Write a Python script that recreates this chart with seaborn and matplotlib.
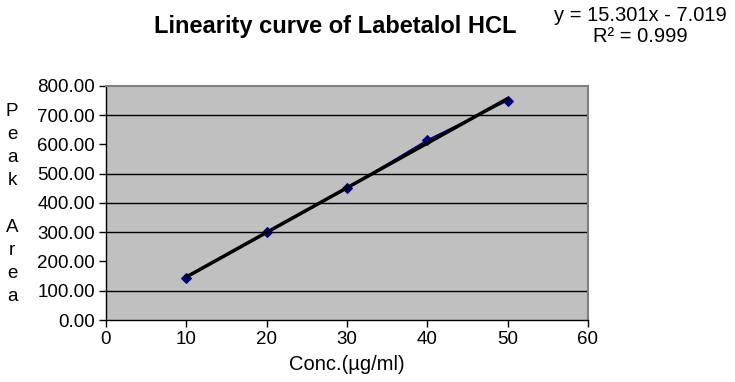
import numpy as np
import pandas as pd
import matplotlib
matplotlib.use("Agg")
import matplotlib.pyplot as plt
from matplotlib.ticker import FormatStrFormatter
import seaborn as sns

# Calibration data
conc = [10, 20, 30, 40, 50]
peak_area = [145, 300, 450, 615, 750]
equation_text = "y = 15.301x - 7.019\nR² = 0.999"
y_label_letters = "P\ne\na\nk\n\nA\nr\ne\na"
x_ticks = [0, 10, 20, 30, 40, 50, 60]
y_ticks = [0, 100, 200, 300, 400, 500, 600, 700, 800]
grid_levels = [100, 300, 400, 500, 700]  # the original only shows these lines

df = pd.DataFrame({"conc": conc, "area": peak_area})

sns.set_style("white")
plt.rcParams["font.family"] = ["Liberation Sans", "DejaVu Sans"]
plt.rcParams["text.color"] = "black"
plt.rcParams["xtick.color"] = "black"
plt.rcParams["ytick.color"] = "black"
plt.rcParams["axes.labelcolor"] = "black"

fig = plt.figure(figsize=(7.35, 3.82), dpi=100)
ax = fig.add_axes([0.1442, 0.1623, 0.6558, 0.6126])
ax.set_facecolor("#c0c0c0")

for lvl in grid_levels:
    ax.axhline(lvl, color="black", lw=1.0, zorder=1)

# Data series (navy diamonds joined by a thin line)
sns.lineplot(data=df, x="conc", y="area", ax=ax, color="#000080", lw=1.2,
             marker="D", markersize=5.5, markeredgecolor="#000080", zorder=3)

# Linear trendline
sns.regplot(data=df, x="conc", y="area", ax=ax, scatter=False, ci=None,
            truncate=True, line_kws={"color": "black", "lw": 2.5, "zorder": 4})

ax.set_xlim(0, 60)
ax.set_ylim(0, 800)
ax.set_xticks(x_ticks)
ax.set_yticks(y_ticks)
ax.yaxis.set_major_formatter(FormatStrFormatter("%.2f"))
ax.tick_params(axis="both", labelsize=13.5, direction="out", length=5,
               width=1, color="black", left=True, bottom=True, pad=3)

for side in ["top", "right"]:
    ax.spines[side].set_color("#808080")
    ax.spines[side].set_linewidth(1.5)
for side in ["left", "bottom"]:
    ax.spines[side].set_color("black")
    ax.spines[side].set_linewidth(1.0)

ax.set_xlabel("Conc.(µg/ml)", fontsize=14.5, labelpad=5)
ax.set_ylabel("")

fig.text(12 / 735, 1 - 204 / 382, y_label_letters,
         fontsize=13.5, ha="center", va="center", linespacing=1.48)

fig.text(335 / 735, 1 - 27 / 382, "Linearity curve of Labetalol HCL",
         fontsize=17, fontweight="bold", ha="center", va="center")
fig.text(640 / 735, 1 - 26 / 382, equation_text, fontsize=14.5,
         ha="center", va="center", linespacing=1.12)

fig.savefig("out.png", dpi=100)
